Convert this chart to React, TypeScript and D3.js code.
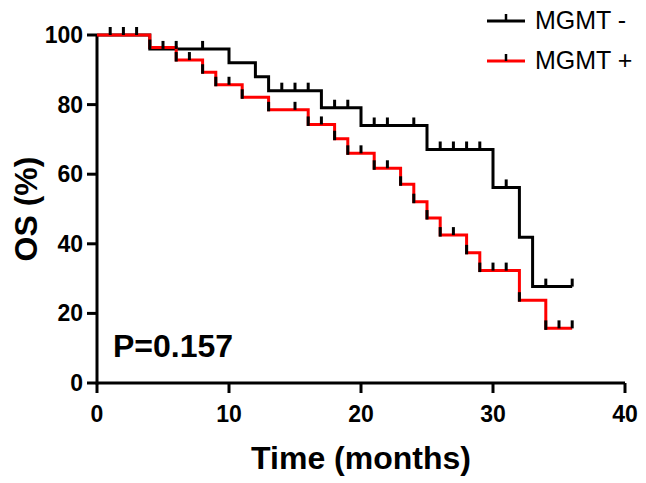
import React from "react";
import * as d3 from "d3";

const xTicks = [0, 10, 20, 30, 40];
const yTicks = [0, 20, 40, 60, 80, 100];

// MGMT - (black)
const negTimes = [0, 4, 10, 12, 13, 17, 20, 25, 30, 32, 33, 36];
const negSurv = [100, 96, 92, 88, 84, 79.1, 74.0, 67.1, 56.2, 41.9, 27.7, 27.7];
const negCensor = [1, 2, 3, 5, 6, 8, 14, 15, 16, 18, 19, 21, 22, 24, 26, 27, 28, 29, 31, 34, 36];

// MGMT + (red)
const posTimes = [0, 4, 6, 8, 9, 11, 13, 16, 18, 19, 21, 23, 24, 25, 26, 28, 29, 32, 34, 36];
const posSurv = [100, 96.4, 92.8, 89.3, 85.7, 82.1, 78.5, 74.3, 70.2, 66.0, 61.7, 57.1, 52.1, 47.4, 42.5, 37.4, 32.3, 23.8, 15.7, 15.7];
const posCensor = [7, 10, 15, 17, 20, 22, 27, 30, 31, 35, 36];

const seriesNames = ["MGMT -", "MGMT +"];
const pText = "P=0.157";

const W = 646;
const H = 483;
const x = d3.scaleLinear().domain([0, 40]).range([97, 625]);
const y = d3.scaleLinear().domain([0, 100]).range([383, 35]);

function survAt(times: number[], surv: number[], t: number) {
  let v = surv[0];
  for (let i = 0; i < times.length; i++) if (times[i] <= t) v = surv[i];
  return v;
}

const line = d3
  .line<[number, number]>()
  .x((d) => x(d[0]))
  .y((d) => y(d[1]))
  .curve(d3.curveStepAfter);

const font = "Arial, 'Liberation Sans', Helvetica, sans-serif";
const TICK = 8;

export default function App() {
  const negPts = negTimes.map((t, i) => [t, negSurv[i]] as [number, number]);
  const posPts = posTimes.map((t, i) => [t, posSurv[i]] as [number, number]);
  const posEvents = posTimes.slice(1, -1);
  return (
    <svg width={W} height={H} style={{ position: "absolute", left: 0, top: 0, background: "#fff" }}>
      <rect width={W} height={H} fill="#fff" />
      {/* axes */}
      <line x1={x(0)} x2={x(40)} y1={y(0)} y2={y(0)} stroke="#000" strokeWidth={3} />
      <line x1={x(0)} x2={x(0)} y1={y(0) + 1.5} y2={y(100) - 1} stroke="#000" strokeWidth={3} />
      {xTicks.map((t) => (
        <g key={"xt" + t}>
          <line x1={x(t)} x2={x(t)} y1={y(0)} y2={y(0) + 10} stroke="#000" strokeWidth={3} />
          <text x={x(t)} y={422} textAnchor="middle" fontFamily={font} fontWeight="bold" fontSize={23}>
            {t}
          </text>
        </g>
      ))}
      {yTicks.map((t) => (
        <g key={"yt" + t}>
          <line x1={x(0) - 10} x2={x(0)} y1={y(t)} y2={y(t)} stroke="#000" strokeWidth={3} />
          <text x={83} y={y(t) + 8} textAnchor="end" fontFamily={font} fontWeight="bold" fontSize={23}>
            {t}
          </text>
        </g>
      ))}
      <text x={361} y={469} textAnchor="middle" fontFamily={font} fontWeight="bold" fontSize={32}>
        Time (months)
      </text>
      <text
        transform={`translate(37,${(y(0) + y(100)) / 2}) rotate(-90)`}
        textAnchor="middle"
        fontFamily={font}
        fontWeight="bold"
        fontSize={32}
      >
        OS (%)
      </text>
      <text x={113} y={357} fontFamily={font} fontWeight="bold" fontSize={32}>
        {pText}
      </text>

      {/* curves */}
      <path d={line(negPts) || ""} fill="none" stroke="#000" strokeWidth={3} />
      <path d={line(posPts) || ""} fill="none" stroke="#ff0000" strokeWidth={3} />
      {posEvents.map((t, i) => (
        <line
          key={"pe" + i}
          x1={x(t)}
          x2={x(t)}
          y1={y(survAt(posTimes, posSurv, t)) + 1.5}
          y2={y(survAt(posTimes, posSurv, t)) - TICK}
          stroke="#000"
          strokeWidth={3}
        />
      ))}
      {negCensor.map((t, i) => (
        <line
          key={"nc" + i}
          x1={x(t)}
          x2={x(t)}
          y1={y(survAt(negTimes, negSurv, t))}
          y2={y(survAt(negTimes, negSurv, t)) - TICK}
          stroke="#000"
          strokeWidth={3}
        />
      ))}
      {posCensor.map((t, i) => (
        <line
          key={"pc" + i}
          x1={x(t)}
          x2={x(t)}
          y1={y(survAt(posTimes, posSurv, t))}
          y2={y(survAt(posTimes, posSurv, t)) - TICK}
          stroke="#000"
          strokeWidth={3}
        />
      ))}

      {/* legend */}
      {seriesNames.map((name, i) => {
        const ly = 21 + i * 40;
        return (
          <g key={name}>
            <line x1={487} x2={525} y1={ly} y2={ly} stroke={i === 0 ? "#000" : "#ff0000"} strokeWidth={3} />
            <line x1={506} x2={506} y1={ly} y2={ly - 7} stroke="#000" strokeWidth={2.5} />
            <text x={535} y={ly + 8} fontFamily={font} fontSize={25}>
              {name}
            </text>
          </g>
        );
      })}
    </svg>
  );
}
